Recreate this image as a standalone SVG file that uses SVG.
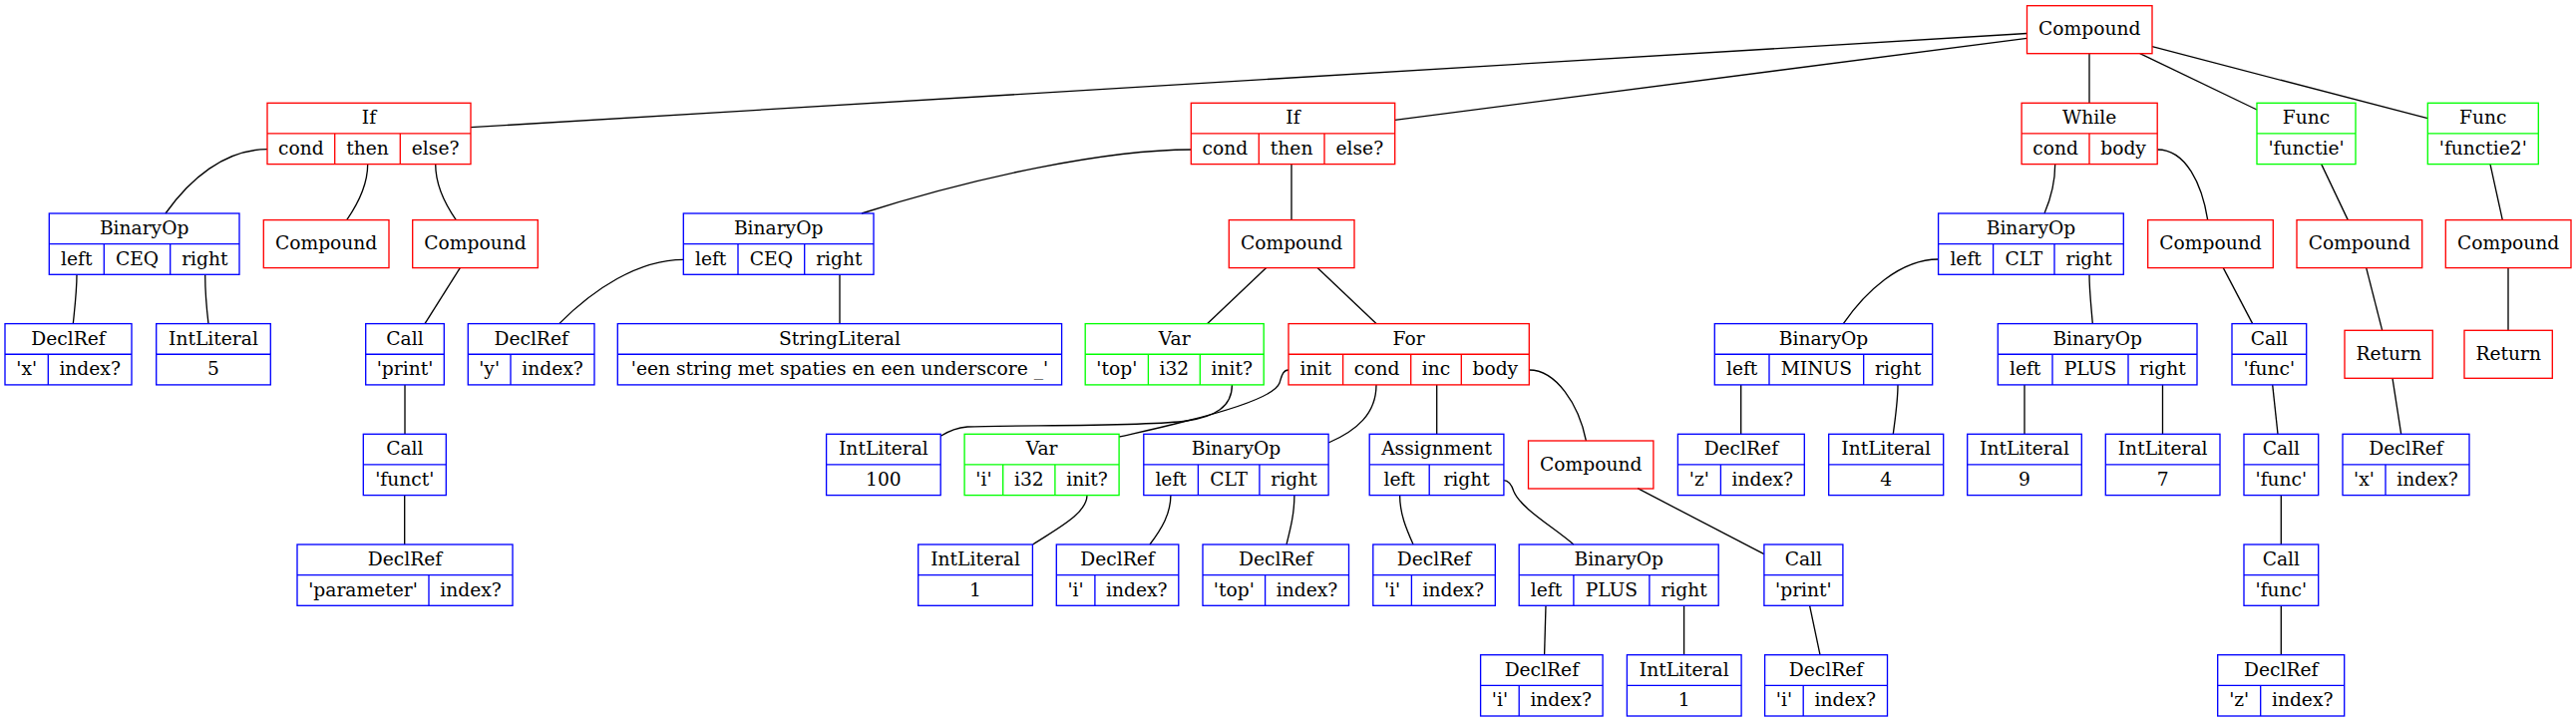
<svg xmlns="http://www.w3.org/2000/svg" width="2583" height="724" viewBox="0 0 2583 724">
<style>
.n rect,.n path{fill:none;stroke-width:1.33}
.r rect,.r path{stroke:#ff0000}
.b rect,.b path{stroke:#0000ff}
.g rect,.g path{stroke:#00ff00}
text{font-family:"DejaVu Serif","Liberation Serif",serif;font-size:18.67px;text-anchor:middle;fill:#000}
#edges path{fill:none;stroke:#000;stroke-width:1.33}
</style>
<rect width="2583" height="724" fill="#fff"/>
<g id="edges">
<path d="M2032.5,33.5L472,127.7"/>
<path d="M2032.5,38.3L1398.7,120.3"/>
<path d="M2095,53.7L2095,103.3"/>
<path d="M2145.7,53.7L2263,110"/>
<path d="M2158,46.7L2434.3,118.7"/>
<path d="M268,149.7C225,149.7 190,180 166,214"/>
<path d="M368.7,164.6C368.7,185 360,203 347.7,220.6"/>
<path d="M436.7,164.6C436.7,185 445,203 457.3,220.6"/>
<path d="M1194.3,150C1110,150 980,177 864,214"/>
<path d="M1295,164.6L1295,220.6"/>
<path d="M2060.7,164.6C2060.7,185 2056,200 2050,214"/>
<path d="M2163.2,150C2192,150 2208,185 2213.7,220.6"/>
<path d="M2327.7,164.6L2354.3,220.6"/>
<path d="M2497,164.6L2509.3,220.6"/>
<path d="M77,275.3C77,292 75,308 73.3,324.6"/>
<path d="M205.7,275.3C205.7,292 207,308 209,324.6"/>
<path d="M461.3,268.6L426,324.6"/>
<path d="M685.3,260.3C640,260.3 595,290 560.7,324.6"/>
<path d="M842,275.3L842,324.6"/>
<path d="M1269.7,268.6L1210.7,324.6"/>
<path d="M1321,268.6L1380,324.6"/>
<path d="M1943.6,260C1905,260 1870,293 1848.3,324.6"/>
<path d="M2095,275.3C2095,292 2097,308 2098.3,324.6"/>
<path d="M2229.3,268.6L2258.7,324.6"/>
<path d="M2372.7,268.6L2388.7,331.3"/>
<path d="M2515,268.6L2515,331.3"/>
<path d="M406,385.9L406,435.3"/>
<path d="M1235.4,385.9C1235.4,408 1218,418 1190,422C1150,428 1010,426 970,428C958,429 950,433 943.2,437.3"/>
<path d="M1292,371C1286,371 1285,378 1283,384C1278,398 1230,412 1190,422C1160,430 1135,435 1122.1,438"/>
<path d="M1380,385.9C1380,415 1360,432 1332.1,444"/>
<path d="M1440.7,385.9L1440.7,435.3"/>
<path d="M1533.3,371C1560,371 1583,405 1590.4,442"/>
<path d="M1745.7,385.9L1745.7,435.3"/>
<path d="M1903,385.9C1903,402 1900.5,418 1898.3,435.3"/>
<path d="M2030,385.9L2030,435.3"/>
<path d="M2168.5,385.9L2168.5,435.3"/>
<path d="M2278.7,385.9L2284,435.3"/>
<path d="M2399,379.3L2407.7,435.3"/>
<path d="M405.7,496.6L405.7,546"/>
<path d="M1090,496.6C1090,515 1060,530 1035.7,546"/>
<path d="M1173.9,496.6C1173.9,515 1165,530 1152.9,546"/>
<path d="M1297.9,496.6C1297.9,515 1294,530 1290,546"/>
<path d="M1403.6,496.6C1403.6,515 1410,530 1417.1,546"/>
<path d="M1507.9,481.7C1513,481.7 1516,487 1518,493C1525,510 1560,530 1577.9,546"/>
<path d="M1642.1,489.7L1768.9,555.7"/>
<path d="M2287.3,496.6L2287.3,546"/>
<path d="M1550,607.3L1548.6,656.7"/>
<path d="M1688.6,607.3L1688.6,656.7"/>
<path d="M1814.6,607.3L1825,656.7"/>
<path d="M2287.3,607.3L2287.3,656.7"/>
</g>

<g id="root" class="n r"><rect x="2032.5" y="5.7" width="125.5" height="48"/><text x="2095.25" y="35.3">Compound</text></g>

<g id="if1" class="n r"><rect x="268" y="103.3" width="204" height="61.3"/><path d="M268,133.95H472M335.7,133.95V164.6M401.3,133.95V164.6"/><text x="370" y="124.2">If</text><text x="301.85" y="154.9">cond</text><text x="368.5" y="154.9">then</text><text x="436.65" y="154.9">else?</text></g>
<g id="if2" class="n r"><rect x="1194.3" y="103.3" width="204.4" height="61.3"/><path d="M1194.3,133.95H1398.7M1262.3,133.95V164.6M1328,133.95V164.6"/><text x="1296.5" y="124.2">If</text><text x="1228.3" y="154.9">cond</text><text x="1295.15" y="154.9">then</text><text x="1363.35" y="154.9">else?</text></g>
<g id="while" class="n r"><rect x="2027.1" y="103.3" width="136.1" height="61.3"/><path d="M2027.1,133.95H2163.2M2095,133.95V164.6"/><text x="2095.15" y="124.2">While</text><text x="2061.05" y="154.9">cond</text><text x="2129.1" y="154.9">body</text></g>
<g id="func1" class="n g"><rect x="2263" y="103.3" width="99" height="61.3"/><path d="M2263,133.95H2362"/><text x="2312.5" y="124.2">Func</text><text x="2312.5" y="154.9">'functie'</text></g>
<g id="func2" class="n g"><rect x="2434.3" y="103.3" width="111" height="61.3"/><path d="M2434.3,133.95H2545.3"/><text x="2489.8" y="124.2">Func</text><text x="2489.8" y="154.9">'functie2'</text></g>

<g id="binop_ceq1" class="n b"><rect x="49.3" y="214" width="190.7" height="61.3"/><path d="M49.3,244.65H240M104.3,244.65V275.3M170.7,244.65V275.3"/><text x="144.65" y="234.9">BinaryOp</text><text x="76.8" y="265.6">left</text><text x="137.5" y="265.6">CEQ</text><text x="205.35" y="265.6">right</text></g>
<g id="comp_if1_then" class="n r"><rect x="264.3" y="220.6" width="125.7" height="48"/><text x="327.15" y="250.2">Compound</text></g>
<g id="comp_if1_else" class="n r"><rect x="413.7" y="220.6" width="125.6" height="48"/><text x="476.5" y="250.2">Compound</text></g>
<g id="binop_ceq2" class="n b"><rect x="685.3" y="214" width="190.7" height="61.3"/><path d="M685.3,244.65H876M740,244.65V275.3M806.7,244.65V275.3"/><text x="780.65" y="234.9">BinaryOp</text><text x="712.65" y="265.6">left</text><text x="773.35" y="265.6">CEQ</text><text x="841.35" y="265.6">right</text></g>
<g id="comp_if2_then" class="n r"><rect x="1232.3" y="220.6" width="125.7" height="48"/><text x="1295.15" y="250.2">Compound</text></g>
<g id="binop_clt1" class="n b"><rect x="1943.6" y="214" width="185.7" height="61.3"/><path d="M1943.6,244.65H2129.3M1998.6,244.65V275.3M2060,244.65V275.3"/><text x="2036.45" y="234.9">BinaryOp</text><text x="1971.1" y="265.6">left</text><text x="2029.3" y="265.6">CLT</text><text x="2094.65" y="265.6">right</text></g>
<g id="comp_while" class="n r"><rect x="2153.7" y="220.6" width="125.6" height="48"/><text x="2216.5" y="250.2">Compound</text></g>
<g id="comp_f1" class="n r"><rect x="2303" y="220.6" width="125.7" height="48"/><text x="2365.85" y="250.2">Compound</text></g>
<g id="comp_f2" class="n r"><rect x="2452.3" y="220.6" width="125.7" height="48"/><text x="2515.15" y="250.2">Compound</text></g>

<g id="declref_x" class="n b"><rect x="5" y="324.6" width="127" height="61.3"/><path d="M5,355.25H132M48.3,355.25V385.9"/><text x="68.5" y="345.5">DeclRef</text><text x="26.65" y="376.2">'x'</text><text x="90.15" y="376.2">index?</text></g>
<g id="intlit_5" class="n b"><rect x="156.7" y="324.6" width="114.6" height="61.3"/><path d="M156.7,355.25H271.3"/><text x="214" y="345.5">IntLiteral</text><text x="214" y="376.2">5</text></g>
<g id="call_print1" class="n b"><rect x="366.7" y="324.6" width="78.6" height="61.3"/><path d="M366.7,355.25H445.3"/><text x="406" y="345.5">Call</text><text x="406" y="376.2">'print'</text></g>
<g id="declref_y" class="n b"><rect x="469.3" y="324.6" width="126.7" height="61.3"/><path d="M469.3,355.25H596M512,355.25V385.9"/><text x="532.65" y="345.5">DeclRef</text><text x="490.65" y="376.2">'y'</text><text x="554" y="376.2">index?</text></g>
<g id="stringlit" class="n b"><rect x="619.3" y="324.6" width="445.3" height="61.3"/><path d="M619.3,355.25H1064.6"/><text x="841.95" y="345.5">StringLiteral</text><text x="841.95" y="376.2">'een string met spaties en een underscore _'</text></g>
<g id="var_top" class="n g"><rect x="1088.2" y="324.6" width="179" height="61.3"/><path d="M1088.2,355.25H1267.2M1151.4,355.25V385.9M1203.3,355.25V385.9"/><text x="1177.7" y="345.5">Var</text><text x="1119.8" y="376.2">'top'</text><text x="1177.35" y="376.2">i32</text><text x="1235.25" y="376.2">init?</text></g>
<g id="for" class="n r"><rect x="1292" y="324.6" width="241.3" height="61.3"/><path d="M1292,355.25H1533.3M1346.6,355.25V385.9M1414.7,355.25V385.9M1465.3,355.25V385.9"/><text x="1412.65" y="345.5">For</text><text x="1319.3" y="376.2">init</text><text x="1380.65" y="376.2">cond</text><text x="1440" y="376.2">inc</text><text x="1499.3" y="376.2">body</text></g>
<g id="binop_minus" class="n b"><rect x="1719.3" y="324.6" width="218.4" height="61.3"/><path d="M1719.3,355.25H1937.7M1774,355.25V385.9M1868.7,355.25V385.9"/><text x="1828.5" y="345.5">BinaryOp</text><text x="1746.65" y="376.2">left</text><text x="1821.35" y="376.2">MINUS</text><text x="1903.2" y="376.2">right</text></g>
<g id="binop_plus1" class="n b"><rect x="2003.3" y="324.6" width="199.7" height="61.3"/><path d="M2003.3,355.25H2203M2058,355.25V385.9M2134,355.25V385.9"/><text x="2103.15" y="345.5">BinaryOp</text><text x="2030.65" y="376.2">left</text><text x="2096" y="376.2">PLUS</text><text x="2168.5" y="376.2">right</text></g>
<g id="call_func1" class="n b"><rect x="2238" y="324.6" width="74.7" height="61.3"/><path d="M2238,355.25H2312.7"/><text x="2275.35" y="345.5">Call</text><text x="2275.35" y="376.2">'func'</text></g>
<g id="return_f1" class="n r"><rect x="2351" y="331.3" width="88.3" height="48"/><text x="2395.15" y="360.9">Return</text></g>
<g id="return_f2" class="n r"><rect x="2471" y="331.3" width="88.3" height="48"/><text x="2515.15" y="360.9">Return</text></g>

<g id="call_funct" class="n b"><rect x="364.3" y="435.3" width="83" height="61.3"/><path d="M364.3,465.95H447.3"/><text x="405.8" y="456.2">Call</text><text x="405.8" y="486.9">'funct'</text></g>
<g id="intlit_100" class="n b"><rect x="828.6" y="435.3" width="114.6" height="61.3"/><path d="M828.6,465.95H943.2"/><text x="885.9" y="456.2">IntLiteral</text><text x="885.9" y="486.9">100</text></g>
<g id="var_i" class="n g"><rect x="967.1" y="435.3" width="155" height="61.3"/><path d="M967.1,465.95H1122.1M1005.7,465.95V496.6M1057.9,465.95V496.6"/><text x="1044.6" y="456.2">Var</text><text x="986.4" y="486.9">'i'</text><text x="1031.8" y="486.9">i32</text><text x="1090" y="486.9">init?</text></g>
<g id="binop_clt2" class="n b"><rect x="1146.8" y="435.3" width="185.3" height="61.3"/><path d="M1146.8,465.95H1332.1M1201.4,465.95V496.6M1262.9,465.95V496.6"/><text x="1239.45" y="456.2">BinaryOp</text><text x="1174.1" y="486.9">left</text><text x="1232.15" y="486.9">CLT</text><text x="1297.5" y="486.9">right</text></g>
<g id="assignment" class="n b"><rect x="1373.2" y="435.3" width="134.7" height="61.3"/><path d="M1373.2,465.95H1507.9M1433.2,465.95V496.6"/><text x="1440.55" y="456.2">Assignment</text><text x="1403.2" y="486.9">left</text><text x="1470.55" y="486.9">right</text></g>
<g id="comp_for" class="n r"><rect x="1532.5" y="442" width="125.4" height="48"/><text x="1595.2" y="471.6">Compound</text></g>
<g id="declref_z1" class="n b"><rect x="1682.4" y="435.3" width="126.9" height="61.3"/><path d="M1682.4,465.95H1809.3M1725.4,465.95V496.6"/><text x="1745.85" y="456.2">DeclRef</text><text x="1703.9" y="486.9">'z'</text><text x="1767.35" y="486.9">index?</text></g>
<g id="intlit_4" class="n b"><rect x="1833.7" y="435.3" width="115" height="61.3"/><path d="M1833.7,465.95H1948.7"/><text x="1891.2" y="456.2">IntLiteral</text><text x="1891.2" y="486.9">4</text></g>
<g id="intlit_9" class="n b"><rect x="1972.7" y="435.3" width="114.6" height="61.3"/><path d="M1972.7,465.95H2087.3"/><text x="2030" y="456.2">IntLiteral</text><text x="2030" y="486.9">9</text></g>
<g id="intlit_7" class="n b"><rect x="2111.3" y="435.3" width="114.7" height="61.3"/><path d="M2111.3,465.95H2226"/><text x="2168.65" y="456.2">IntLiteral</text><text x="2168.65" y="486.9">7</text></g>
<g id="call_func2" class="n b"><rect x="2250" y="435.3" width="74.7" height="61.3"/><path d="M2250,465.95H2324.7"/><text x="2287.35" y="456.2">Call</text><text x="2287.35" y="486.9">'func'</text></g>
<g id="declref_x2" class="n b"><rect x="2349" y="435.3" width="127" height="61.3"/><path d="M2349,465.95H2476M2392,465.95V496.6"/><text x="2412.5" y="456.2">DeclRef</text><text x="2370.5" y="486.9">'x'</text><text x="2434" y="486.9">index?</text></g>

<g id="declref_param" class="n b"><rect x="298" y="546" width="216" height="61.3"/><path d="M298,576.65H514M430,576.65V607.3"/><text x="406" y="566.9">DeclRef</text><text x="364" y="597.6">'parameter'</text><text x="472" y="597.6">index?</text></g>
<g id="intlit_1a" class="n b"><rect x="920.7" y="546" width="114.7" height="61.3"/><path d="M920.7,576.65H1035.4"/><text x="978.05" y="566.9">IntLiteral</text><text x="978.05" y="597.6">1</text></g>
<g id="declref_i1" class="n b"><rect x="1059.3" y="546" width="122.5" height="61.3"/><path d="M1059.3,576.65H1181.8M1097.9,576.65V607.3"/><text x="1120.55" y="566.9">DeclRef</text><text x="1078.6" y="597.6">'i'</text><text x="1139.85" y="597.6">index?</text></g>
<g id="declref_top" class="n b"><rect x="1206" y="546" width="146.5" height="61.3"/><path d="M1206,576.65H1352.5M1268.6,576.65V607.3"/><text x="1279.25" y="566.9">DeclRef</text><text x="1237.3" y="597.6">'top'</text><text x="1310.55" y="597.6">index?</text></g>
<g id="declref_i2" class="n b"><rect x="1376.8" y="546" width="122.5" height="61.3"/><path d="M1376.8,576.65H1499.3M1415.4,576.65V607.3"/><text x="1438.05" y="566.9">DeclRef</text><text x="1396.1" y="597.6">'i'</text><text x="1457.35" y="597.6">index?</text></g>
<g id="binop_plus2" class="n b"><rect x="1523.2" y="546" width="200" height="61.3"/><path d="M1523.2,576.65H1723.2M1577.9,576.65V607.3M1653.9,576.65V607.3"/><text x="1623.2" y="566.9">BinaryOp</text><text x="1550.55" y="597.6">left</text><text x="1615.9" y="597.6">PLUS</text><text x="1688.55" y="597.6">right</text></g>
<g id="call_print2" class="n b"><rect x="1768.9" y="546" width="79" height="61.3"/><path d="M1768.9,576.65H1847.9"/><text x="1808.4" y="566.9">Call</text><text x="1808.4" y="597.6">'print'</text></g>
<g id="call_func3" class="n b"><rect x="2250" y="546" width="74.7" height="61.3"/><path d="M2250,576.65H2324.7"/><text x="2287.35" y="566.9">Call</text><text x="2287.35" y="597.6">'func'</text></g>

<g id="declref_i3" class="n b"><rect x="1484.6" y="656.7" width="122.5" height="61.3"/><path d="M1484.6,687.35H1607.1M1523.2,687.35V718"/><text x="1545.85" y="677.6">DeclRef</text><text x="1503.9" y="708.3">'i'</text><text x="1565.15" y="708.3">index?</text></g>
<g id="intlit_1b" class="n b"><rect x="1631.4" y="656.7" width="114.7" height="61.3"/><path d="M1631.4,687.35H1746.1"/><text x="1688.75" y="677.6">IntLiteral</text><text x="1688.75" y="708.3">1</text></g>
<g id="declref_i4" class="n b"><rect x="1769.6" y="656.7" width="122.9" height="61.3"/><path d="M1769.6,687.35H1892.5M1808.2,687.35V718"/><text x="1831.05" y="677.6">DeclRef</text><text x="1788.9" y="708.3">'i'</text><text x="1850.35" y="708.3">index?</text></g>
<g id="declref_z2" class="n b"><rect x="2223.7" y="656.7" width="127" height="61.3"/><path d="M2223.7,687.35H2350.7M2266.7,687.35V718"/><text x="2287.2" y="677.6">DeclRef</text><text x="2245.2" y="708.3">'z'</text><text x="2308.7" y="708.3">index?</text></g>
</svg>
